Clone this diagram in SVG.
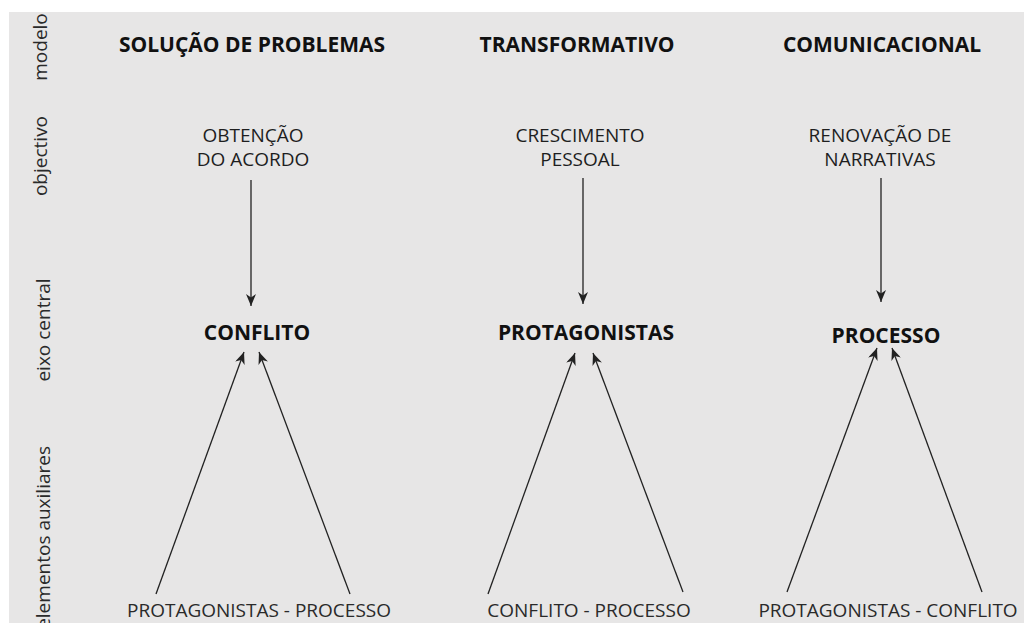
<svg xmlns="http://www.w3.org/2000/svg" width="1024" height="623" viewBox="0 0 1024 623">
  <style>
    .row { font-family: "Open Sans", "Noto Sans", sans-serif; font-size: 19px; fill: #2a2a2a; text-anchor: middle; }
    .head { font-family: "Open Sans", "Noto Sans", sans-serif; font-size: 21px; font-weight: bold; fill: #111; text-anchor: middle; }
    .obj { font-family: "Open Sans", "Noto Sans", sans-serif; font-size: 19px; fill: #1e1e1e; text-anchor: middle; }
    .aux { font-family: "Open Sans", "Noto Sans", sans-serif; font-size: 19px; fill: #2a2a2a; text-anchor: middle; }
    .edge { stroke: #222; stroke-width: 1.3; fill: none; marker-end: url(#ah); }
  </style>
  <defs>
    <marker id="ah" viewBox="0 0 12 10" refX="12" refY="5" markerWidth="12" markerHeight="10" markerUnits="userSpaceOnUse" orient="auto">
      <path d="M0,0 L12,5 L0,10 L3.5,5 z" fill="#222"/>
    </marker>
  </defs>
  <rect x="0" y="0" width="1024" height="623" fill="#ffffff"/>
  <rect x="9" y="12" width="1015" height="611" fill="#e7e6e6"/>

  <g id="row-labels">
    <text class="row" transform="translate(47,47) rotate(-90)">modelo</text>
    <text class="row" transform="translate(47,156) rotate(-90)">objectivo</text>
    <text class="row" transform="translate(50,330) rotate(-90)">eixo central</text>
    <text class="row" transform="translate(50,446) rotate(-90)" style="text-anchor:end">elementos auxiliares</text>
  </g>

  <g id="headings">
    <text id="h-solucao" class="head" x="252" y="52">SOLUÇÃO DE PROBLEMAS</text>
    <text id="h-transformativo" class="head" x="577" y="52">TRANSFORMATIVO</text>
    <text id="h-comunicacional" class="head" x="882" y="52">COMUNICACIONAL</text>
  </g>

  <g id="obj-1"><text class="obj" x="253" y="142">OBTENÇÃO</text><text class="obj" x="253" y="166">DO ACORDO</text></g>
  <g id="obj-2"><text class="obj" x="580" y="142">CRESCIMENTO</text><text class="obj" x="580" y="166">PESSOAL</text></g>
  <g id="obj-3"><text class="obj" x="880" y="142">RENOVAÇÃO DE</text><text class="obj" x="880" y="166">NARRATIVAS</text></g>

  <g id="central-1"><text class="head" x="257" y="340">CONFLITO</text></g>
  <g id="central-2"><text class="head" x="586" y="340">PROTAGONISTAS</text></g>
  <g id="central-3"><text class="head" x="886" y="343">PROCESSO</text></g>

  <g id="aux-1"><text class="aux" x="259" y="617">PROTAGONISTAS - PROCESSO</text></g>
  <g id="aux-2"><text class="aux" x="589" y="617">CONFLITO - PROCESSO</text></g>
  <g id="aux-3"><text class="aux" x="888" y="617">PROTAGONISTAS - CONFLITO</text></g>

  <g id="connectors">
    <line class="edge" x1="251" y1="180" x2="251" y2="306"/>
    <line class="edge" x1="583" y1="178" x2="583" y2="304"/>
    <line class="edge" x1="881" y1="178" x2="881" y2="302"/>
    <line class="edge" x1="156" y1="594" x2="244" y2="352"/>
    <line class="edge" x1="350" y1="594" x2="259" y2="352"/>
    <line class="edge" x1="488" y1="594" x2="575" y2="353"/>
    <line class="edge" x1="683" y1="592" x2="593" y2="353"/>
    <line class="edge" x1="787" y1="592" x2="877" y2="348"/>
    <line class="edge" x1="982" y1="592" x2="892" y2="348"/>
  </g>
</svg>
